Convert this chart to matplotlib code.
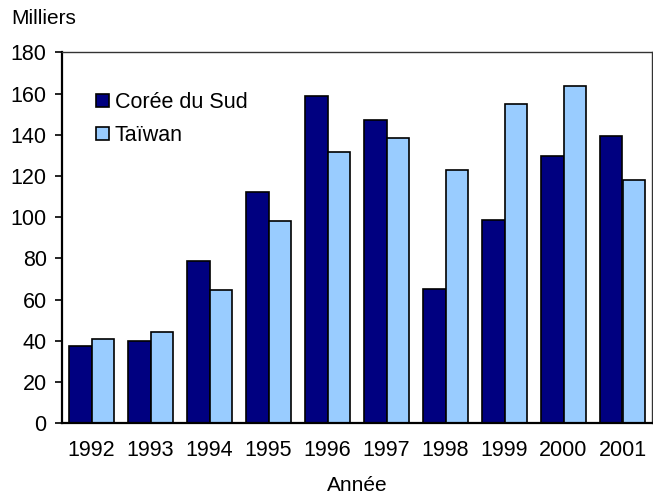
import matplotlib
matplotlib.use("Agg")
import matplotlib.pyplot as plt
import numpy as np

plt.rcParams["font.family"] = ["Liberation Sans", "DejaVu Sans"]

years = ["1992", "1993", "1994", "1995", "1996", "1997", "1998", "1999", "2000", "2001"]
coree = [37.6, 39.7, 78.5, 112.2, 158.7, 147.2, 65.0, 98.7, 129.8, 139.4]
taiwan = [40.7, 44.3, 64.7, 97.9, 131.6, 138.6, 122.9, 154.9, 163.5, 118.0]

DARK = "#000080"
LIGHT = "#99CCFF"

fig = plt.figure(figsize=(6.53, 4.98), dpi=100)
ax = fig.add_axes([62 / 653, 1 - 423 / 498, 590 / 653, 370.5 / 498])

x = np.arange(len(years))
w = 0.373
ax.bar(x - w / 2, coree, w, color=DARK, edgecolor="black", linewidth=1.2, label="Corée du Sud")
ax.bar(x + w / 2, taiwan, w, color=LIGHT, edgecolor="black", linewidth=1.2, label="Taïwan")

ax.set_xlim(-0.5, len(years) - 0.5)
ax.set_ylim(0, 180)
ax.set_yticks(np.arange(0, 181, 20))
ax.set_xticks(x)
ax.set_xticklabels(years)
ax.tick_params(axis="x", length=0, pad=12, labelsize=15.5)
ax.tick_params(axis="y", length=5, width=1.2, pad=6, labelsize=15.5)

for side in ["left", "bottom"]:
    ax.spines[side].set_linewidth(1.6)
    ax.spines[side].set_color("black")
for side in ["top", "right"]:
    ax.spines[side].set_linewidth(1.0)
    ax.spines[side].set_color("#333333")

ax.set_xlabel("Année", fontsize=15, labelpad=11)
fig.text(11 / 653, 1 - 19 / 498, "Milliers", fontsize=15, va="center", ha="left")

ax.legend(loc="upper left", bbox_to_anchor=(0.043, 0.916), frameon=False,
          fontsize=15.5, handlelength=0.6, handleheight=0.6, handletextpad=0.28,
          labelspacing=0.55, borderaxespad=0)

fig.savefig("out.png", dpi=100)
